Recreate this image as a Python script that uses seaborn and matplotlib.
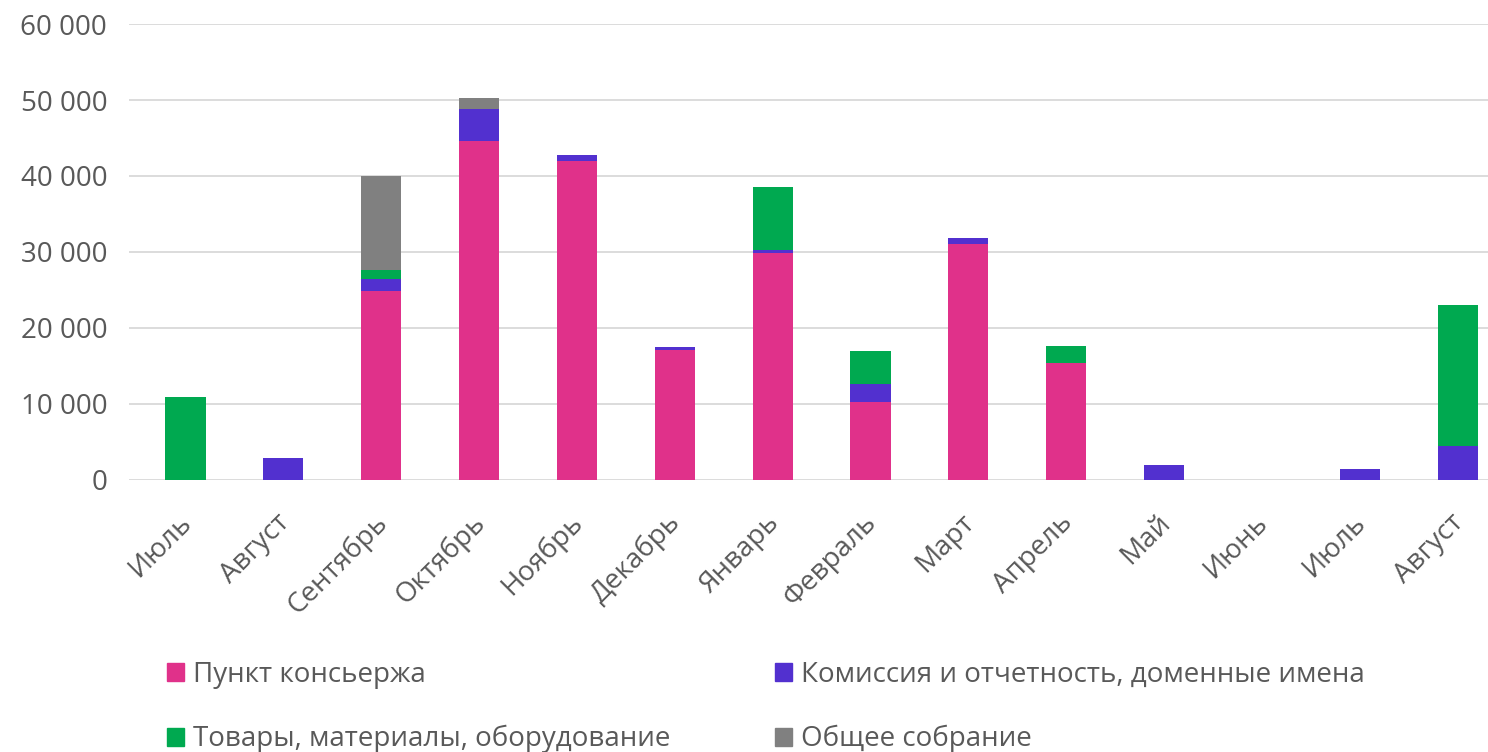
import numpy as np
import pandas as pd
import matplotlib.pyplot as plt
import matplotlib.transforms as mtransforms
from matplotlib.patches import Patch
from matplotlib.ticker import FuncFormatter
import seaborn as sns

# Data
months = ['Июль', 'Август', 'Сентябрь', 'Октябрь', 'Ноябрь', 'Декабрь', 'Январь',
          'Февраль', 'Март', 'Апрель', 'Май', 'Июнь', 'Июль', 'Август']
concierge = [0, 0, 24800, 44600, 42000, 17100, 29800, 10300, 31000, 15400, 0, 0, 0, 0]
commission = [0, 2900, 1700, 4200, 800, 400, 400, 2300, 800, 0, 1950, 0, 1400, 4500]
goods = [10900, 0, 1100, 0, 0, 0, 8300, 4300, 0, 2200, 0, 0, 0, 18500]
meeting = [0, 0, 12400, 1400, 0, 0, 0, 0, 0, 0, 0, 0, 0, 0]

series_names = ['Пункт консьержа', 'Комиссия и отчетность, доменные имена',
                'Товары, материалы, оборудование', 'Общее собрание']
colors = ['#e0318a', '#5230cf', '#00a950', '#808080']

sns.set_style('white')
plt.rcParams['font.family'] = ['Open Sans', 'DejaVu Sans']
FS = 20
GREY = '#595959'

# stack by drawing cumulative totals, tallest first
df = pd.DataFrame({'pos': range(len(months)), 'a': concierge, 'b': commission,
                   'c': goods, 'd': meeting})
df['cum_a'] = df['a']
df['cum_b'] = df['cum_a'] + df['b']
df['cum_c'] = df['cum_b'] + df['c']
df['cum_d'] = df['cum_c'] + df['d']

fig = plt.figure(figsize=(14.88, 7.52), dpi=100)
ax = fig.add_axes([0.087, 0.362, 0.913, 0.606])

for col, color in zip(['cum_d', 'cum_c', 'cum_b', 'cum_a'], colors[::-1]):
    sns.barplot(data=df, x='pos', y=col, color=color, width=0.41, ax=ax,
                saturation=1, errorbar=None, linewidth=0)

ax.set_ylim(0, 60000)
ax.set_xlim(-0.573, 13.31)
ax.set_yticks(np.arange(0, 60001, 10000))
ax.yaxis.set_major_formatter(FuncFormatter(lambda v, p: f'{int(v):,}'.replace(',', ' ')))
ax.grid(axis='y', color='#d9d9d9', linewidth=1.3)
ax.set_axisbelow(True)
sns.despine(ax=ax, left=True, bottom=True)
ax.set_xlabel('')
ax.set_ylabel('')
ax.tick_params(axis='both', length=0, labelsize=FS, labelcolor=GREY)
ax.tick_params(axis='y', pad=16)

ax.set_xticks(range(len(months)))
ax.set_xticklabels(months, rotation=45, ha='right', va='center', rotation_mode='anchor')
offset = mtransforms.ScaledTranslation(2 / 100, -34 / 100, fig.dpi_scale_trans)
for lbl in ax.get_xticklabels():
    lbl.set_transform(lbl.get_transform() + offset)

# legend: two columns placed separately
handles = [Patch(color=c) for c in colors]
leg_kw = dict(loc='upper left', frameon=False, fontsize=FS, handlelength=0.62,
              handleheight=0.62, handletextpad=0.3, labelspacing=1.3,
              labelcolor=GREY, borderpad=0, borderaxespad=0)
fig.legend([handles[0], handles[2]], [series_names[0], series_names[2]],
           bbox_to_anchor=(167 / 1488, 1 - 661 / 752), **leg_kw)
fig.legend([handles[1], handles[3]], [series_names[1], series_names[3]],
           bbox_to_anchor=(775 / 1488, 1 - 661 / 752), **leg_kw)

fig.savefig('out.png', dpi=100)
